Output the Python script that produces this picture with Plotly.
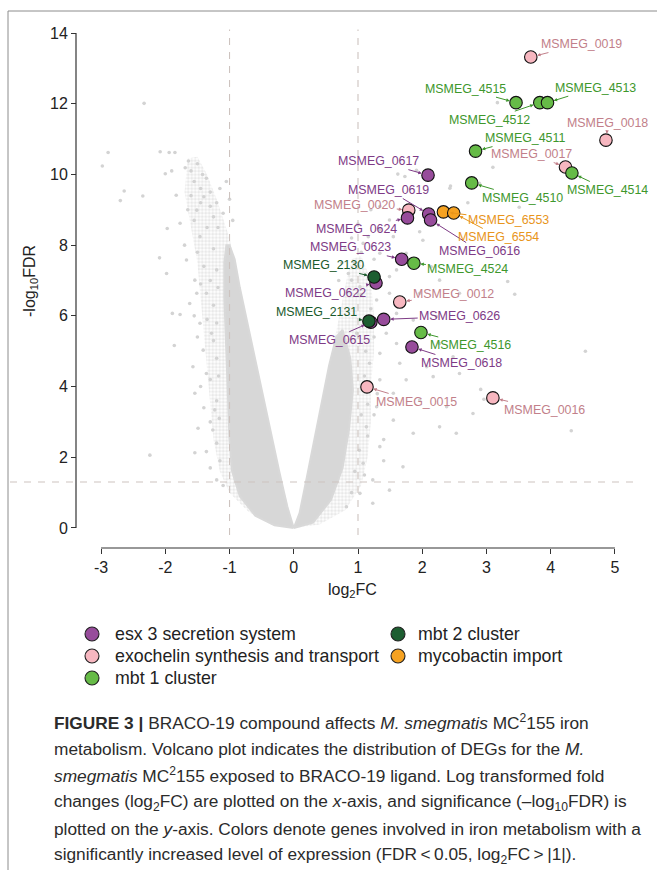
import plotly.graph_objects as go

W, H = 657, 870

# ---------------- data ----------------
gene_names = ["MSMEG_0019", "MSMEG_4515", "MSMEG_4512", "MSMEG_4513", "MSMEG_0018",
              "MSMEG_4511", "MSMEG_0017", "MSMEG_4514", "MSMEG_4510", "MSMEG_0617",
              "MSMEG_0619", "MSMEG_0616", "MSMEG_0020", "MSMEG_0624", "MSMEG_6553",
              "MSMEG_6554", "MSMEG_0623", "MSMEG_4524", "MSMEG_2130", "MSMEG_0622",
              "MSMEG_0012", "MSMEG_2131", "MSMEG_0615", "MSMEG_0626", "MSMEG_4516",
              "MSMEG_0618", "MSMEG_0015", "MSMEG_0016"]
gene_log2fc = [3.69, 3.46, 3.83, 3.95, 4.86,
               2.83, 4.23, 4.33, 2.77, 2.09,
               2.10, 2.13, 1.79, 1.77, 2.33,
               2.49, 1.68, 1.87, 1.25, 1.28,
               1.65, 1.17, 1.20, 1.40, 1.98,
               1.84, 1.14, 3.10]
gene_neglog10fdr = [13.32, 12.03, 12.03, 12.03, 10.97,
                    10.66, 10.21, 10.04, 9.76, 9.98,
                    8.88, 8.71, 8.99, 8.77, 8.94,
                    8.91, 7.60, 7.49, 7.10, 6.93,
                    6.39, 5.85, 5.82, 5.90, 5.53,
                    5.12, 3.99, 3.68]
gene_group = ["exochelin synthesis and transport", "mbt 1 cluster", "mbt 1 cluster", "mbt 1 cluster",
              "exochelin synthesis and transport", "mbt 1 cluster", "exochelin synthesis and transport",
              "mbt 1 cluster", "mbt 1 cluster", "esx 3 secretion system",
              "esx 3 secretion system", "esx 3 secretion system", "exochelin synthesis and transport",
              "esx 3 secretion system", "mycobactin import", "mycobactin import",
              "esx 3 secretion system", "mbt 1 cluster", "mbt 2 cluster", "esx 3 secretion system",
              "exochelin synthesis and transport", "mbt 2 cluster", "esx 3 secretion system",
              "esx 3 secretion system", "mbt 1 cluster", "esx 3 secretion system",
              "exochelin synthesis and transport", "exochelin synthesis and transport"]
legend_groups = ["esx 3 secretion system", "exochelin synthesis and transport", "mbt 1 cluster",
                 "mbt 2 cluster", "mycobactin import"]

# background (non-highlighted) genes: outlines of the dense / medium-density parts of the cloud
core_left_x = [0, -0.1, -0.22, -0.32, -0.42, -0.53, -0.64, -0.75, -0.84, -0.92, -1.0, -1.05,
               -1.08, -1.08, -1.06, -1.04, -1.02, -1.0, -0.96, -0.84, -0.6, -0.3, 0]
core_left_y = [0, 0.6, 1.55, 2.4, 3.25, 4.2, 5.1, 6.0, 6.8, 7.6, 8.0, 8.0,
               7.5, 6.5, 5.5, 4.5, 3.5, 2.5, 1.6, 0.9, 0.35, 0.08, 0]
halo_left_x = [0, -0.22, -0.42, -0.64, -0.84, -1.0, -1.2, -1.35, -1.5, -1.65, -1.7, -1.6,
               -1.5, -1.45, -1.4, -1.35, -1.3, -1.25, -1.15, -1.0, -0.7, -0.35, 0]
halo_left_y = [0, 1.55, 3.25, 5.1, 6.8, 8.2, 9.3, 10.0, 10.5, 10.45, 9.5, 8.5,
               7.5, 6.5, 5.5, 4.5, 3.5, 2.5, 1.6, 1.0, 0.45, 0.1, 0]
core_right_x = [0, 0.09, 0.2, 0.3, 0.42, 0.55, 0.66, 0.76, 0.88, 0.92, 0.86, 0.76, 0.58, 0.3, 0]
core_right_y = [0, 0.42, 1.4, 2.3, 3.4, 4.6, 5.4, 5.6, 4.8, 3.9, 2.8, 1.7, 0.8, 0.15, 0]
halo_right_x = [0, 0.09, 0.3, 0.45, 0.6, 0.72, 0.82, 0.9, 1.05, 1.2, 1.25, 1.25, 1.2, 1.2,
                1.15, 1.05, 0.8, 0.4, 0]
halo_right_y = [0, 0.42, 2.3, 3.7, 5.0, 6.1, 7.0, 7.6, 7.7, 7.0, 6.0, 5.0, 4.0, 3.0,
                2.0, 1.2, 0.5, 0.1, 0]

bg_x = [-2.33, -2.89, -2.98, -2.08, -1.94, -1.85, -2.64, -2.70, -2.35, -1.64, -1.69, -2.0, -1.90,
        -1.83, -1.97, -2.09, -1.98, -1.89, -1.77, -1.86, -2.24, -1.54, -1.49, -1.54, -1.36, -1.26,
        -1.36, -1.57, -1.23, -1.62, -1.51, -1.54, -1.67, -1.77, -1.51, -1.40, -1.36, -1.46, -1.36,
        -1.2, -1.28, -1.41, -1.46,
        -1.25, -1.3, -1.45, -1.55, -1.6, -1.42, -1.2, -1.35, -1.55, -1.65, -1.25, -1.4, -1.5, -1.3,
        -1.45, -1.25, -1.35, -1.55, -1.25, -1.5, -1.2, -1.3, -1.45, -1.2, -1.3, -1.2, -1.15, -1.3,
        -1.1, -1.18, -1.3, -1.5, -1.45, -1.6, -1.2, -1.18, -1.2, -1.17, -1.16, -1.4, -1.7, -1.15,
        -1.1, -1.0, -0.95, -1.05,
        3.10, 1.73, 1.91, 2.43, 1.34, 1.49, 1.34, 1.16, 1.55, 1.96, 2.01, 1.75, 1.34, 1.08, 1.49,
        1.60, 2.14, 2.27, 1.49, 1.34, 1.03, 0.9, 1.29, 1.96, 2.58, 1.60, 1.86, 2.22, 0.98, 1.44,
        1.60, 1.34, 1.18, 1.65, 2.27, 2.48, 2.07, 1.34, 1.75, 2.17, 2.58, 1.55, 1.96, 2.38, 2.79,
        1.29, 1.13, 1.55, 1.86, 2.27, 2.53, 1.34, 1.70, 1.08, 1.23, 1.49, 1.03, 0.82, 1.23, 3.51,
        3.33, 3.44, 4.54, 4.32, 2.96, 2.91, 3.17, 2.89, 2.71, 2.44, 1.62,
        1.05, 1.1, 1.12, 1.1, 1.15, 1.05, 1.02, 0.95, 0.9, 1.15, 0.85, 0.95, 1.05, 0.8, 1.2, 1.25,
        1.3, 1.25, 1.4, 1.4, 1.1, 0.7, 0.75, 0.9, 1.0, 1.2, 1.25]
bg_y = [12.01, 10.62, 10.24, 10.64, 10.62, 10.62, 9.53, 9.26, 9.39, 10.38, 10.19, 10.02, 10.1,
        9.41, 8.47, 7.64, 7.2, 6.07, 6.04, 5.16, 2.06, 3.81, 2.82, 2.13, 2.16, 2.77,
        4.37, 4.56, 3.34, 6.35, 6.64, 7.01, 7.58, 8.62, 8.99, 9.37, 9.89, 8.24, 6.64,
        1.36, 5.51, 5.03, 5.79,
        8.8, 9.1, 9.6, 9.8, 10.1, 10.0, 9.2, 8.5, 8.7, 9.0, 7.9, 7.4, 7.8, 7.0,
        6.9, 6.3, 5.9, 6.0, 5.3, 5.4, 4.8, 4.2, 4.0, 3.6, 3.0, 2.4, 1.9, 1.7,
        1.2, 8.5, 9.5, 10.3, 9.2, 9.4, 7.3, 6.8, 5.8, 4.3, 3.1, 3.4, 8.0, 9.6,
        8.9, 9.3, 8.7, 9.8,
        10.2, 9.94, 10.12, 9.61, 9.09, 8.71, 8.43, 8.24, 8.24, 8.38, 8.14, 7.77, 7.77, 8.05, 7.11,
        7.3, 7.39, 7.01, 6.64, 7.01, 6.82, 7.01, 6.45, 6.64, 6.64, 6.07, 5.88, 5.98, 5.51, 5.51,
        5.22, 4.94, 4.66, 4.66, 5.22, 4.84, 4.56, 4.19, 4.19, 4.28, 4.37, 3.81, 3.62, 3.43, 3.24,
        3.43, 2.86, 3.05, 2.68, 2.86, 2.68, 2.30, 1.73, 1.83, 1.36, 1.07, 0.98, 0.60, 0.70, 9.07,
        6.97, 6.61, 5.0, 2.75, 3.64, 3.92, 12.03, 9.75, 9.2, 9.67, 10.01,
        6.6, 5.9, 5.0, 4.3, 3.5, 3.2, 2.2, 1.6, 1.0, 2.6, 7.2, 7.5, 7.8, 7.9, 6.2, 5.4,
        3.8, 3.2, 2.5, 1.9, 1.5, 7.0, 7.5, 8.2, 8.6, 9.0, 7.6]

x_ticks = [-3, -2, -1, 0, 1, 2, 3, 4, 5]
y_ticks = [0, 2, 4, 6, 8, 10, 12, 14]
fdr_threshold = 1.301   # -log10(0.05)
fc_threshold = 1

# ---------------- styles / layout helpers ----------------
FONT = "Liberation Sans, Arial, Helvetica, sans-serif"
GRAY = "#d3d3d3"
STYLE = {
    "esx 3 secretion system": dict(fill="#974C9B", text="#7E3B86"),
    "exochelin synthesis and transport": dict(fill="#F7B7C0", text="#C27F8A"),
    "mbt 1 cluster": dict(fill="#66BB47", text="#3E972C"),
    "mbt 2 cluster": dict(fill="#1D5E31", text="#1A5A2C"),
    "mycobactin import": dict(fill="#F6A221", text="#E8951B"),
}
DRAW_ORDER = ["exochelin synthesis and transport", "esx 3 secretion system",
              "mbt 1 cluster", "mbt 2 cluster", "mycobactin import"]
# legend slots (pixel positions of the marker centre, text start, row centre)
LEGEND_SLOT = {"esx 3 secretion system": (92, 113, 634),
               "exochelin synthesis and transport": (92, 113, 656),
               "mbt 1 cluster": (92, 113, 678),
               "mbt 2 cluster": (398, 416, 634),
               "mycobactin import": (398, 416, 656)}
# label offsets (pixels, label centre relative to point)
LABEL_OFFSET = {
    "MSMEG_0019": (51, -13), "MSMEG_4515": (-51, -14), "MSMEG_4513": (48, -15),
    "MSMEG_4512": (-50, 17), "MSMEG_0018": (2, -17), "MSMEG_4511": (49, -13),
    "MSMEG_0017": (-34, -13), "MSMEG_4514": (36, 17), "MSMEG_4510": (51, 15),
    "MSMEG_0617": (-50, -14), "MSMEG_0619": (-40, -24), "MSMEG_0020": (-54, -5),
    "MSMEG_6553": (65, 8), "MSMEG_0624": (-51, 11), "MSMEG_6554": (45, 24),
    "MSMEG_0616": (49, 31), "MSMEG_0623": (-51, -12), "MSMEG_2130": (-51, -12),
    "MSMEG_4524": (54, 6), "MSMEG_0622": (-50, 10), "MSMEG_0012": (54, -8),
    "MSMEG_2131": (-52, -9), "MSMEG_0626": (76, -3), "MSMEG_0615": (-41, 18),
    "MSMEG_4516": (50, 13), "MSMEG_0618": (50, 16), "MSMEG_0015": (50, 15),
    "MSMEG_0016": (52, 12),
}


def px_x(p):
    return p / W


def px_y(p):
    return 1 - p / H


fig = go.Figure()

# background cloud: medium-density halos (stippled) + dense cores (solid)
for hx, hy in ((halo_left_x, halo_left_y), (halo_right_x, halo_right_y)):
    fig.add_trace(go.Scatter(x=hx, y=hy, mode="lines", fill="toself", fillcolor="rgba(0,0,0,0)",
                             fillpattern=dict(shape=".", size=3.5, solidity=0.6,
                                              fgcolor=GRAY, bgcolor="rgba(255,255,255,0)"),
                             line=dict(width=0), hoverinfo="skip", showlegend=False))
for cx, cy in ((core_left_x, core_left_y), (core_right_x, core_right_y)):
    fig.add_trace(go.Scatter(x=cx, y=cy, mode="lines", fill="toself", fillcolor="#d7d7d7",
                             line=dict(color="#d9d9d9", width=2), hoverinfo="skip",
                             showlegend=False))
fig.add_trace(go.Scatter(x=bg_x, y=bg_y, mode="markers",
                         marker=dict(color=GRAY, size=3.6), hoverinfo="skip", showlegend=False))

# highlighted genes
for grp in DRAW_ORDER:
    idx = [i for i, g in enumerate(gene_group) if g == grp]
    fig.add_trace(go.Scatter(
        x=[gene_log2fc[i] for i in idx], y=[gene_neglog10fdr[i] for i in idx],
        text=[gene_names[i] for i in idx], mode="markers", name=grp, showlegend=False,
        marker=dict(color=STYLE[grp]["fill"], size=12.5, line=dict(color="#111111", width=1.1)),
    ))

# legend (drawn on an overlay axis measured in pixels)
fig.add_trace(go.Scatter(
    x=[LEGEND_SLOT[g][0] for g in legend_groups], y=[LEGEND_SLOT[g][2] for g in legend_groups],
    xaxis="x2", yaxis="y2", mode="markers", showlegend=False, hoverinfo="skip",
    marker=dict(color=[STYLE[g]["fill"] for g in legend_groups], size=14,
                line=dict(color="#222222", width=1.1)),
))

annotations = []
for g in legend_groups:
    annotations.append(dict(x=LEGEND_SLOT[g][1], y=LEGEND_SLOT[g][2], xref="x2", yref="y2",
                            xanchor="left", yanchor="middle", text=g, showarrow=False,
                            font=dict(family=FONT, size=17.8, color="#222222")))

for name, gx, gy, grp in zip(gene_names, gene_log2fc, gene_neglog10fdr, gene_group):
    dx, dy = LABEL_OFFSET[name]
    col = STYLE[grp]["text"]
    annotations.append(dict(x=gx, y=gy, xref="x", yref="y", ax=dx, ay=dy, text=name,
                            showarrow=True, arrowhead=2, arrowsize=0.7, arrowwidth=1,
                            arrowcolor=col, standoff=6.5,
                            font=dict(family=FONT, size=12.4, color=col)))

# axis titles
annotations.append(dict(x=px_x(352), y=px_y(590), xref="paper", yref="paper",
                        xanchor="center", yanchor="middle",
                        text="log<sub>2</sub>FC", showarrow=False,
                        font=dict(family=FONT, size=16, color="#222222")))
annotations.append(dict(x=px_x(30), y=px_y(281), xref="paper", yref="paper",
                        xanchor="center", yanchor="middle",
                        text="-log<sub>10</sub>FDR", showarrow=False, textangle=-90,
                        font=dict(family=FONT, size=16, color="#222222")))

# caption
caption_lines = [
    "<b>FIGURE 3 |</b> BRACO-19 compound affects <i>M. smegmatis</i> MC<sup>2</sup>155 iron",
    "metabolism. Volcano plot indicates the distribution of DEGs for the <i>M.</i>",
    "<i>smegmatis</i> MC<sup>2</sup>155 exposed to BRACO-19 ligand. Log transformed fold",
    "changes (log<sub>2</sub>FC) are plotted on the <i>x</i>-axis, and significance (–log<sub>10</sub>FDR) is",
    "plotted on the <i>y</i>-axis. Colors denote genes involved in iron metabolism with a",
    "significantly increased level of expression (FDR\u2009&lt;\u20090.05, log<sub>2</sub>FC\u2009&gt;\u2009|1|).",
]
caption_y = [722, 749, 775, 802, 829, 855]
for line, yy in zip(caption_lines, caption_y):
    annotations.append(dict(x=px_x(52), y=px_y(yy), xref="paper", yref="paper",
                            xanchor="left", yanchor="middle", text=line, showarrow=False,
                            font=dict(family=FONT, size=17.3, color="#2b2b2b")))

dash_col = "#cdc3bf"
shapes = [
    # page frame
    dict(type="line", xref="paper", yref="paper", x0=px_x(8), x1=1, y0=px_y(11), y1=px_y(11),
         line=dict(color="#8c8c8c", width=1)),
    dict(type="line", xref="paper", yref="paper", x0=px_x(8), x1=px_x(8), y0=0, y1=px_y(11),
         line=dict(color="#8c8c8c", width=1)),
    # capped axis lines
    dict(type="line", xref="paper", yref="y", x0=px_x(76), x1=px_x(76), y0=0, y1=14,
         line=dict(color="#333333", width=1.2)),
    dict(type="line", xref="x", yref="paper", x0=-3, x1=5, y0=px_y(548), y1=px_y(548),
         line=dict(color="#333333", width=1.2)),
    # thresholds
    dict(type="line", xref="x", yref="y", x0=-fc_threshold, x1=-fc_threshold, y0=-0.2, y1=14.1,
         line=dict(color=dash_col, width=1.1, dash="7px,7px"), layer="above"),
    dict(type="line", xref="x", yref="y", x0=fc_threshold, x1=fc_threshold, y0=-0.2, y1=14.1,
         line=dict(color=dash_col, width=1.1, dash="7px,7px"), layer="above"),
    dict(type="line", xref="paper", yref="y", x0=px_x(10), x1=px_x(640), y0=fdr_threshold,
         y1=fdr_threshold, line=dict(color=dash_col, width=1.1, dash="7px,7px"), layer="above"),
]

fig.update_layout(
    width=W, height=H, margin=dict(l=0, r=0, t=0, b=0),
    paper_bgcolor="white", plot_bgcolor="rgba(0,0,0,0)",
    font=dict(family=FONT, color="#222222"), showlegend=False,
    xaxis=dict(domain=[px_x(85), px_x(631)], range=[-3.25, 5.25], anchor="free",
               position=px_y(548), showgrid=False, zeroline=False, showline=False,
               ticks="outside", ticklen=5, tickwidth=1.1, tickcolor="#333333",
               tickvals=x_ticks, ticktext=[str(v) for v in x_ticks],
               tickfont=dict(size=16, color="#222222"), automargin=False),
    yaxis=dict(domain=[px_y(538.6), px_y(22.4)], range=[-0.3, 14.3], anchor="free",
               position=px_x(76), showgrid=False, zeroline=False, showline=False,
               ticks="outside", ticklen=5, tickwidth=1.1, tickcolor="#333333",
               tickvals=y_ticks, ticktext=[str(v) for v in y_ticks],
               tickfont=dict(size=16, color="#222222"), automargin=False),
    xaxis2=dict(domain=[0, 1], range=[0, W], visible=False, anchor="y2", fixedrange=True),
    yaxis2=dict(domain=[0, 1], range=[H, 0], visible=False, anchor="x2", fixedrange=True),
    annotations=annotations, shapes=shapes,
)

fig.write_html("out.html", config={"displayModeBar": False},
               post_script="document.body.style.margin='0';document.body.style.overflow='hidden';")
